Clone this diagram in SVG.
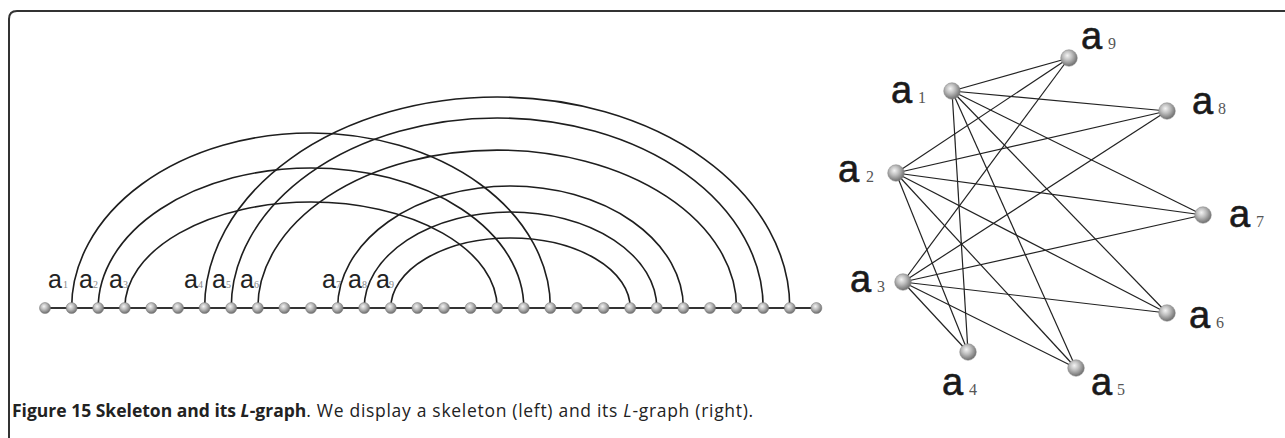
<svg xmlns="http://www.w3.org/2000/svg" width="1285" height="438" viewBox="0 0 1285 438">
<defs>
<radialGradient id="sph" cx="0.42" cy="0.38" r="0.62" fx="0.4" fy="0.35">
<stop offset="0" stop-color="#f4f4f4"/>
<stop offset="0.45" stop-color="#bdbdbd"/>
<stop offset="1" stop-color="#6e6e6e"/>
</radialGradient>
<style>
.frame{fill:none;stroke:#333;stroke-width:2}
.base{stroke:#333;stroke-width:2}
.arc{fill:none;stroke:#1e1e1e;stroke-width:1.6}
.edge{stroke:#222;stroke-width:1.2}
.sn{fill:url(#sph);stroke:#777;stroke-width:0.5}
.bn{fill:url(#sph);stroke:#888;stroke-width:0.5}
.la{font-family:"Liberation Sans",Arial,sans-serif;font-size:25px;fill:#222}
.ls{font-family:"Liberation Serif","Times New Roman",serif;font-size:10px;fill:#888}
.ra{font-family:"Liberation Sans",Arial,sans-serif;font-size:38px;fill:#1a1a1a;stroke:#1a1a1a;stroke-width:0.6}
.rs{font-family:"Liberation Serif","Times New Roman",serif;font-size:16px;fill:#555}
.cap{font-family:"Open Sans","Noto Sans",sans-serif;font-size:17.5px;fill:#222}
.reg{letter-spacing:0.7px}
</style>
</defs>
<path class="frame" d="M9 438 V19 Q9 11 17 11 H1285"/>

<g id="skeleton">
<line class="base" x1="45" y1="308" x2="816.4" y2="308"/>
</g>

<g id="labels-left">
<text class="la" x="48" y="288">a</text><text class="ls" x="63" y="288">1</text>
<text class="la" x="79" y="288">a</text><text class="ls" x="93" y="288">2</text>
<text class="la" x="109" y="288">a</text><text class="ls" x="123" y="288">3</text>
<text class="la" x="184" y="288">a</text><text class="ls" x="198" y="288">4</text>
<text class="la" x="212" y="288">a</text><text class="ls" x="226" y="288">5</text>
<text class="la" x="240" y="288">a</text><text class="ls" x="254" y="288">6</text>
<text class="la" x="322" y="288">a</text><text class="ls" x="336" y="288">7</text>
<text class="la" x="348" y="288">a</text><text class="ls" x="362" y="288">8</text>
<text class="la" x="376" y="288">a</text><text class="ls" x="389" y="288">9</text>
</g>

<g id="arcs">
<path class="arc" d="M71.6 308 A239.4 175 0 0 1 550.4 308"/>
<path class="arc" d="M98.2 308 A212.8 140 0 0 1 523.8 308"/>
<path class="arc" d="M124.8 308 A186.2 106 0 0 1 497.2 308"/>
<path class="arc" d="M204.6 308 A292.6 211 0 0 1 789.8 308"/>
<path class="arc" d="M231.2 308 A266 190 0 0 1 763.2 308"/>
<path class="arc" d="M257.8 308 A239.4 158 0 0 1 736.6 308"/>
<path class="arc" d="M337.6 308 A172.9 122 0 0 1 683.4 308"/>
<path class="arc" d="M364.2 308 A146.3 96 0 0 1 656.8 308"/>
<path class="arc" d="M390.8 308 A119.7 70 0 0 1 630.2 308"/>
</g>

<g id="skeleton-nodes">
<circle class="sn" cx="45" cy="308" r="5.5"/><circle class="sn" cx="71.6" cy="308" r="5.5"/><circle class="sn" cx="98.2" cy="308" r="5.5"/><circle class="sn" cx="124.8" cy="308" r="5.5"/><circle class="sn" cx="151.4" cy="308" r="5.5"/><circle class="sn" cx="178" cy="308" r="5.5"/><circle class="sn" cx="204.6" cy="308" r="5.5"/><circle class="sn" cx="231.2" cy="308" r="5.5"/><circle class="sn" cx="257.8" cy="308" r="5.5"/><circle class="sn" cx="284.4" cy="308" r="5.5"/>
<circle class="sn" cx="311" cy="308" r="5.5"/><circle class="sn" cx="337.6" cy="308" r="5.5"/><circle class="sn" cx="364.2" cy="308" r="5.5"/><circle class="sn" cx="390.8" cy="308" r="5.5"/><circle class="sn" cx="417.4" cy="308" r="5.5"/><circle class="sn" cx="444" cy="308" r="5.5"/><circle class="sn" cx="470.6" cy="308" r="5.5"/><circle class="sn" cx="497.2" cy="308" r="5.5"/><circle class="sn" cx="523.8" cy="308" r="5.5"/><circle class="sn" cx="550.4" cy="308" r="5.5"/>
<circle class="sn" cx="577" cy="308" r="5.5"/><circle class="sn" cx="603.6" cy="308" r="5.5"/><circle class="sn" cx="630.2" cy="308" r="5.5"/><circle class="sn" cx="656.8" cy="308" r="5.5"/><circle class="sn" cx="683.4" cy="308" r="5.5"/><circle class="sn" cx="710" cy="308" r="5.5"/><circle class="sn" cx="736.6" cy="308" r="5.5"/><circle class="sn" cx="763.2" cy="308" r="5.5"/><circle class="sn" cx="789.8" cy="308" r="5.5"/><circle class="sn" cx="816.4" cy="308" r="5.5"/>
</g>

<g id="edges">
<line class="edge" x1="952" y1="91" x2="968" y2="352"/>
<line class="edge" x1="952" y1="91" x2="1076" y2="368"/>
<line class="edge" x1="952" y1="91" x2="1167" y2="313"/>
<line class="edge" x1="952" y1="91" x2="1203" y2="215"/>
<line class="edge" x1="952" y1="91" x2="1167" y2="111"/>
<line class="edge" x1="952" y1="91" x2="1069" y2="58"/>
<line class="edge" x1="896" y1="173" x2="968" y2="352"/>
<line class="edge" x1="896" y1="173" x2="1076" y2="368"/>
<line class="edge" x1="896" y1="173" x2="1167" y2="313"/>
<line class="edge" x1="896" y1="173" x2="1203" y2="215"/>
<line class="edge" x1="896" y1="173" x2="1167" y2="111"/>
<line class="edge" x1="896" y1="173" x2="1069" y2="58"/>
<line class="edge" x1="903" y1="282" x2="968" y2="352"/>
<line class="edge" x1="903" y1="282" x2="1076" y2="368"/>
<line class="edge" x1="903" y1="282" x2="1167" y2="313"/>
<line class="edge" x1="903" y1="282" x2="1203" y2="215"/>
<line class="edge" x1="903" y1="282" x2="1167" y2="111"/>
<line class="edge" x1="903" y1="282" x2="1069" y2="58"/>
</g>

<g id="n1"><circle class="bn" cx="952" cy="91" r="8.3"/><text class="ra" x="891" y="103">a</text><text class="rs" x="918" y="103">1</text></g>
<g id="n2"><circle class="bn" cx="896" cy="173" r="8.3"/><text class="ra" x="838" y="182">a</text><text class="rs" x="866" y="182">2</text></g>
<g id="n3"><circle class="bn" cx="903" cy="282" r="8.3"/><text class="ra" x="850" y="292">a</text><text class="rs" x="877" y="292">3</text></g>
<g id="n4"><circle class="bn" cx="968" cy="352" r="8.3"/><text class="ra" x="942" y="395">a</text><text class="rs" x="969" y="395">4</text></g>
<g id="n5"><circle class="bn" cx="1076" cy="368" r="8.3"/><text class="ra" x="1091" y="395">a</text><text class="rs" x="1117" y="395">5</text></g>
<g id="n6"><circle class="bn" cx="1167" cy="313" r="8.3"/><text class="ra" x="1189" y="328">a</text><text class="rs" x="1216" y="328">6</text></g>
<g id="n7"><circle class="bn" cx="1203" cy="215" r="8.3"/><text class="ra" x="1229" y="227">a</text><text class="rs" x="1256" y="227">7</text></g>
<g id="n8"><circle class="bn" cx="1167" cy="111" r="8.3"/><text class="ra" x="1192" y="114">a</text><text class="rs" x="1218" y="114">8</text></g>
<g id="n9"><circle class="bn" cx="1069" cy="58" r="8.3"/><text class="ra" x="1081" y="49">a</text><text class="rs" x="1108" y="49">9</text></g>

<text class="cap" x="12" y="417"><tspan font-weight="bold">Figure 15 Skeleton and its <tspan font-style="italic">L</tspan>-graph</tspan><tspan class="reg">. We display a skeleton (left) and its <tspan font-style="italic">L</tspan>-graph (right).</tspan></text>
</svg>
